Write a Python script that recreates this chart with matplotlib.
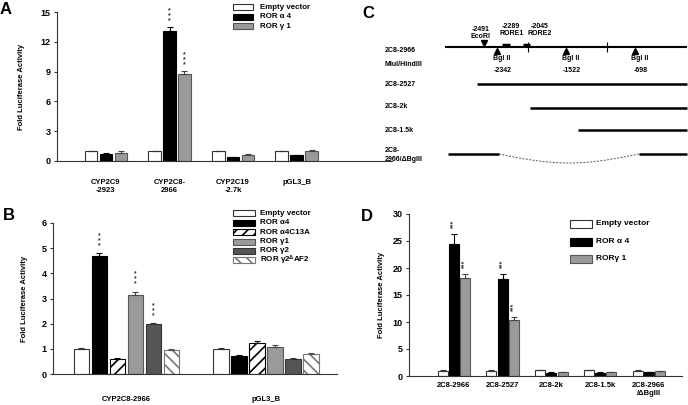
import numpy as np
import matplotlib
matplotlib.use("Agg")
import matplotlib.pyplot as plt
import matplotlib.transforms as mtransforms
from matplotlib.patches import Rectangle

plt.rcParams['font.family'] = ['Liberation Sans', 'DejaVu Sans']
plt.rcParams['font.weight'] = 'bold'
plt.rcParams['hatch.linewidth'] = 1.2
plt.rcParams['mathtext.default'] = 'regular'

W, H = 688, 405

# ---- panel A data
A_groups = ["CYP2C9\n-2923", "CYP2C8-\n2966", "CYP2C19\n-2.7k", "pGL3_B"]
A_series = ["Empty vector", "ROR α 4", "ROR γ 1"]
A_empty = [1.0, 1.0, 1.0, 1.0]
A_a4 = [0.72, 13.1, 0.42, 0.6]
A_g1 = [0.78, 8.8, 0.62, 1.05]
A_err_empty = [0.05, 0.04, 0.05, 0.05]
A_err_a4 = [0.05, 0.35, 0.03, 0.04]
A_err_g1 = [0.2, 0.25, 0.06, 0.04]
A_sig = [[0, 0, 0, 0], [0, 1, 0, 0], [0, 1, 0, 0]]

# ---- panel B data
B_groups = ["CYP2C8-2966", "pGL3_B"]
B_series = ["Empty vector", "ROR α4", "ROR α4C13A", "ROR γ1", "ROR γ2", "ROR γ2$^{Δ}$AF2"]
B_vals = [[1.0, 1.0], [4.7, 0.73], [0.6, 1.24], [3.15, 1.08], [2.0, 0.6], [0.97, 0.81]]
B_errs = [[0.03, 0.03], [0.1, 0.03], [0.02, 0.08], [0.12, 0.08], [0.03, 0.02], [0.02, 0.04]]
B_sig = [[0, 0], [1, 0], [0, 0], [1, 0], [1, 0], [0, 0]]

# ---- panel D data
D_groups = ["2C8-2966", "2C8-2527", "2C8-2k", "2C8-1.5k", "2C8-2966\n/ΔBglII"]
D_series = ["Empty vector", "ROR α 4", "RORγ 1"]
D_empty = [1.0, 1.0, 1.05, 1.05, 1.0]
D_a4 = [24.4, 18.0, 0.62, 0.62, 0.65]
D_g1 = [18.1, 10.4, 0.75, 0.75, 0.88]
D_err_empty = [0.05, 0.05, 0.05, 0.05, 0.05]
D_err_a4 = [1.9, 0.9, 0.04, 0.04, 0.04]
D_err_g1 = [0.8, 0.6, 0.05, 0.05, 0.05]
D_sig = [[0, 0, 0, 0, 0], [1, 1, 0, 0, 0], [1, 1, 0, 0, 0]]

# ---- panel C data (positions in bp)
C_labels = ["2C8-2966", "MluI/HindIII", "2C8-2527", "2C8-2k", "2C8-1.5k", "2C8-\n2966/ΔBglII"]
C_main = (-2962, -78)
C_ecori = -2491
C_rore = [-2289, -2045]
C_rore_names = ["RORE1", "RORE2"]
C_bgl = [-2342, -1522, -698]
C_ticks = [-1972, -1031]
C_starts = [-2580, -1949, -1377]
C_del = (-2925, -2318, -650)

WHITE = dict(fc='white', ec='#333333', hatch=None, err='#333333')
BLACK = dict(fc='black', ec='black', hatch=None, err='black')
GRAY = dict(fc='#9a9a9a', ec='#555555', hatch=None, err='#444444')
DGRAY = dict(fc='#555555', ec='#333333', hatch=None, err='#333333')
HATCH1 = dict(fc='white', ec='black', hatch='///', err='black')
HATCH2 = dict(fc='white', ec='#777777', hatch='\\\\\\', err='#555555')

fig = plt.figure(figsize=(W / 100, H / 100), dpi=100)


def px_axes(l, t, r, b):
    return fig.add_axes([l / W, 1 - b / H, (r - l) / W, (b - t) / H])


def style_axes(ax, yticks, xpad):
    ax.set_yticks(yticks)
    ax.set_ylim(yticks[0], yticks[-1])
    for s in ['top', 'right']:
        ax.spines[s].set_visible(False)
    for s in ['left', 'bottom']:
        ax.spines[s].set_color('#333333')
        ax.spines[s].set_linewidth(0.8)
    ax.tick_params(axis='y', direction='out', length=2.5, width=0.8,
                   labelsize=6.5, pad=2, color='#333333')
    ax.tick_params(axis='x', length=0, labelsize=5.5, pad=xpad)
    ax.set_ylabel("Fold Luciferase Activity", fontsize=5.5, fontweight='bold')


def draw_bars(ax, groups, vals, errs, styles, width, step, sig, star):
    x = np.arange(len(groups))
    n = len(vals)
    for i in range(n):
        st = styles[i]
        xi = x + (i - (n - 1) / 2) * step
        v = np.array(vals[i])
        e = np.array(errs[i])
        ax.bar(xi, v, width, color=st['fc'], edgecolor=st['ec'],
               hatch=st['hatch'], linewidth=0.8, zorder=2)
        ax.errorbar(xi, v, yerr=[np.zeros(len(v)), e], fmt='none',
                    ecolor=st['err'], elinewidth=0.8, capsize=2,
                    capthick=0.8, zorder=3)
        for j in range(len(v)):
            if sig[i][j]:
                ax.annotate(star['text'], (xi[j], v[j] + e[j]),
                            xytext=(0, star['off']), textcoords='offset points',
                            ha='center', va='bottom', fontsize=star['size'],
                            rotation=star['rot'], linespacing=star['ls'],
                            color='#333333')
    ax.set_xticks(x)
    ax.set_xticklabels(groups, fontweight='bold')


def legend_box(x, y, dy, bw, bh, gap, names, styles, size):
    for i, (nm, st) in enumerate(zip(names, styles)):
        yc = y + i * dy
        fig.patches.append(Rectangle((x / W, 1 - (yc + bh / 2) / H), bw / W, bh / H,
                                     transform=fig.transFigure, facecolor=st['fc'],
                                     edgecolor=st['ec'], hatch=st['hatch'], linewidth=0.8))
        fig.text((x + bw + gap) / W, 1 - yc / H, nm, fontsize=size,
                 fontweight='bold', va='center', ha='left')


# ---------------- panel A
axA = px_axes(57, 12, 392, 161)
draw_bars(axA, A_groups, [A_empty, A_a4, A_g1], [A_err_empty, A_err_a4, A_err_g1],
          [WHITE, BLACK, GRAY], 0.2, 0.235, A_sig,
          dict(text="*\n*\n*", off=2, size=5, rot=0, ls=0.6))
axA.set_xlim(-0.77, 4.5)
style_axes(axA, [0, 3, 6, 9, 12, 15], 13)
axA.yaxis.set_label_coords(-0.095, 0.5)
legend_box(233, 7.3, 9.4, 20, 6, 7, A_series, [WHITE, BLACK, GRAY], 5.7)

# ---------------- panel B
axB = px_axes(53, 223, 337, 374)
draw_bars(axB, B_groups, B_vals, B_errs, [WHITE, BLACK, HATCH1, GRAY, DGRAY, HATCH2],
          0.114, 0.1286, B_sig, dict(text="*\n*\n*", off=3, size=4.8, rot=0, ls=0.6))
axB.set_xlim(-0.525, 1.504)
style_axes(axB, [0, 1, 2, 3, 4, 5, 6], 16)
axB.yaxis.set_label_coords(-0.088, 0.5)
legend_box(233, 213.3, 9.4, 22, 6, 5, B_series,
           [WHITE, BLACK, HATCH1, GRAY, DGRAY, HATCH2], 5.8)

# ---------------- panel D
axD = px_axes(409, 214, 682, 376)
draw_bars(axD, D_groups, [D_empty, D_a4, D_g1], [D_err_empty, D_err_a4, D_err_g1],
          [WHITE, BLACK, GRAY], 0.205, 0.232, D_sig,
          dict(text="***", off=4, size=5, rot=90, ls=1.0))
axD.set_xlim(-0.92, 4.68)
style_axes(axD, [0, 5, 10, 15, 20, 25, 30], 4)
axD.yaxis.set_label_coords(-0.088, 0.5)
legend_box(570, 224, 17.5, 22, 8, 4, D_series, [WHITE, BLACK, GRAY], 6)

# ---------------- panel C (construct map)
axC = px_axes(368, 0, 688, 175)
axC.set_xlim(-2342 + (368 - 497) / 0.0839, -2342 + (688 - 497) / 0.0839)
axC.set_ylim(175, 0)
axC.axis('off')
rows = [47, 84, 108, 130, 154]
label_y = [50, 65, 84, 107, 130, 155]
bt = mtransforms.blended_transform_factory(axC.transAxes, axC.transData)
for lab, yy in zip(C_labels, label_y):
    axC.text(0.053, yy, lab, transform=bt, fontsize=5, fontweight='bold',
             va='center', ha='left', linespacing=1.3)

axC.plot(C_main, [rows[0]] * 2, color='black', lw=1.5, solid_capstyle='butt')
axC.plot([C_ecori], [rows[0] - 4], marker='v', color='black', ms=4.5)
axC.annotate("-2491\nEcoRI", (C_ecori, 33), xytext=(-3, 0), textcoords='offset points',
             ha='center', va='center', fontsize=5, linespacing=0.9)
for pos, nm in zip(C_rore, C_rore_names):
    axC.plot([pos + 10, pos + 100], [rows[0] - 2] * 2, color='black', lw=2.5,
             solid_capstyle='butt')
axC.annotate("-2289\nRORE1", (C_rore[0], 30), xytext=(7, 0), textcoords='offset points',
             ha='center', va='center', fontsize=5, linespacing=0.9)
axC.annotate("-2045\nRORE2", (C_rore[1], 30), xytext=(13, 0), textcoords='offset points',
             ha='center', va='center', fontsize=5, linespacing=0.9)
axC.vlines(C_ticks, rows[0] - 5, rows[0] + 5, color='black', lw=0.8)
for pos in C_bgl:
    axC.plot([pos], [rows[0] + 4], marker='^', color='black', ms=4.5)
    axC.annotate("Bgl II", (pos, 58), xytext=(3.5, 0), textcoords='offset points',
                 ha='center', va='center', fontsize=5)
    axC.annotate(str(pos), (pos, 71), xytext=(4, 0), textcoords='offset points',
                 ha='center', va='center', fontsize=5)
for st, yy in zip(C_starts, rows[1:4]):
    axC.plot([st, C_main[1]], [yy, yy], color='black', lw=1.8, solid_capstyle='butt')
axC.plot([C_del[0], C_del[1]], [rows[4]] * 2, color='black', lw=1.8, solid_capstyle='butt')
axC.plot([C_del[2], C_main[1]], [rows[4]] * 2, color='black', lw=1.8, solid_capstyle='butt')
t = np.linspace(0, 1, 60)
axC.plot(C_del[1] + (C_del[2] - C_del[1]) * t, rows[4] + 9 * np.sin(np.pi * t),
         color='#555555', lw=0.7, ls=(0, (2, 1.5)))

# panel letters
for letter, (px, py) in zip("ABCD", [(6, 9), (9, 215), (368, 14), (367, 217)]):
    fig.text(px / W, 1 - py / H, letter, fontsize=12, fontweight='bold',
             ha='center', va='center')

fig.savefig("out.png", dpi=100)
